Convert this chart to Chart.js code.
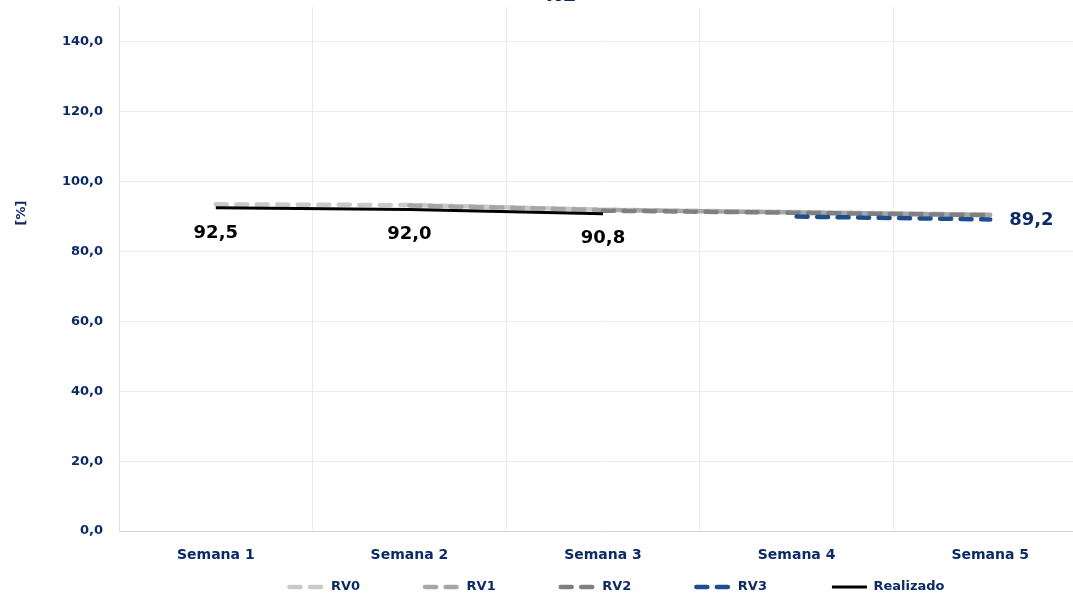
<!DOCTYPE html>
<html>
<head>
<meta charset="utf-8">
<script src="https://cdn.jsdelivr.net/npm/chart.js@4.4.1/dist/chart.umd.min.js"></script>
<style>
html,body{margin:0;padding:0;overflow:hidden;background:#fff;width:1073px;height:597px;}
#wrap{position:absolute;left:0;top:-17px;width:1087px;height:614px;}
canvas{display:block;}
</style>
</head>
<body>
<div id="wrap"><canvas id="c" width="1087" height="614"></canvas></div>
<script>
// ---- data ----
const categories = ['Semana 1', 'Semana 2', 'Semana 3', 'Semana 4', 'Semana 5'];
const seriesNames = ['RV0', 'RV1', 'RV2', 'RV3', 'Realizado'];
const rv0 = [93.5, 93.3, 92.0, 91.3, 90.6];
const rv1 = [null, 93.2, 91.9, 91.2, 90.5];
const rv2 = [null, null, 91.7, 91.1, 90.4];
const rv3 = [null, null, null, 90.0, 89.2];
const realizado = [92.5, 92.0, 90.8, null, null];
const yTickValues = [0, 20, 40, 60, 80, 100, 120, 140];
const chartTitle = 'NE';
const yAxisTitle = '[%]';

// ---- styles ----
const NAVY = '#0b2a66';
const FONT = "'DejaVu Sans', sans-serif";
Chart.defaults.font.family = FONT;
const fmt = v => v.toFixed(1).replace('.', ',');

const dashed = (color, ord) => ({
  borderColor: color, backgroundColor: color, borderWidth: 4.5,
  borderDash: [11, 9.5], borderCapStyle: 'round', pointRadius: 0,
  tension: 0, fill: false, order: ord
});

const legendPlace = {
  id: 'legendPlace',
  afterLayout(chart) {
    const lg = chart.legend;
    if (!lg) return;
    const pad = lg.options.labels.padding;
    const fs = 13;
    const ca = chart.chartArea;
    const centerY = ca.bottom + 56;
    lg.top = centerY - fs / 2 - pad;
    lg.bottom = chart.height;
    lg.height = lg.bottom - lg.top;
    const shift = (ca.left + ca.right) / 2 + 14 - (lg.left + lg.right) / 2;
    lg.left += shift;
    lg.right += shift;
  }
};

const valueLabels = {
  id: 'valueLabels',
  afterDatasetsDraw(chart) {
    const ctx = chart.ctx;
    ctx.save();
    ctx.font = "bold 18px " + FONT;
    ctx.textBaseline = 'middle';
    const mR = chart.getDatasetMeta(4);
    ctx.fillStyle = '#000000';
    ctx.textAlign = 'center';
    realizado.forEach((v, i) => {
      if (v == null) return;
      const p = mR.data[i];
      ctx.fillText(fmt(v), p.x, p.y + 25);
    });
    const m3 = chart.getDatasetMeta(3);
    const last = rv3.length - 1;
    const p = m3.data[last];
    ctx.fillStyle = NAVY;
    ctx.textAlign = 'left';
    ctx.fillText(fmt(rv3[last]), p.x + 19, p.y + 1);
    ctx.restore();
  }
};

const yTitlePlugin = {
  id: 'yTitlePlugin',
  afterDraw(chart) {
    const {ctx, chartArea} = chart;
    ctx.save();
    ctx.translate(chartArea.left - 97, chartArea.top + (chartArea.bottom - chartArea.top) * 0.393);
    ctx.rotate(-Math.PI / 2);
    ctx.font = "bold 13px " + FONT;
    ctx.fillStyle = NAVY;
    ctx.textAlign = 'center';
    ctx.textBaseline = 'middle';
    ctx.fillText(yAxisTitle, 0, 0);
    ctx.restore();
  }
};

new Chart(document.getElementById('c').getContext('2d'), {
  type: 'line',
  data: {
    labels: categories,
    datasets: [
      Object.assign({label: seriesNames[0], data: rv0}, dashed('#c9c9c9', 5)),
      Object.assign({label: seriesNames[1], data: rv1}, dashed('#a6a6a6', 4)),
      Object.assign({label: seriesNames[2], data: rv2}, dashed('#808080', 3)),
      Object.assign({label: seriesNames[3], data: rv3}, dashed('#1f4e8c', 2)),
      {label: seriesNames[4], data: realizado, borderColor: '#000000', backgroundColor: '#000000',
       borderWidth: 3, pointRadius: 0, tension: 0, fill: false, order: 1}
    ]
  },
  options: {
    responsive: false,
    animation: false,
    layout: {padding: {left: 35, right: 0, top: 0, bottom: 0}},
    plugins: {
      title: {display: true, text: chartTitle, color: NAVY, font: {size: 20, weight: 'bold'},
              padding: {top: 0.5, bottom: -0.5}},
      legend: {
        position: 'bottom',
        maxHeight: 33,
        labels: {
          usePointStyle: true, pointStyle: 'line', pointStyleWidth: 35,
          padding: 65, color: NAVY, font: {size: 13, weight: 'bold'},
          sort: (a, b) => a.datasetIndex - b.datasetIndex,
          generateLabels: chart => {
            const items = Chart.defaults.plugins.legend.labels.generateLabels(chart);
            items.forEach(it => {
              const ds = chart.data.datasets[it.datasetIndex];
              it.lineWidth = ds.borderWidth;
              it.lineDash = ds.borderDash || [];
              it.lineCap = ds.borderCapStyle || 'butt';
              it.strokeStyle = ds.borderColor;
            });
            return items;
          }
        }
      },
      tooltip: {enabled: false}
    },
    scales: {
      x: {
        offset: true,
        grid: {color: '#ebebeb', drawTicks: false, offset: true},
        border: {color: '#d4d4d4'},
        ticks: {color: NAVY, font: {size: 14, weight: 'bold'}, padding: 16, maxRotation: 0},
        afterFit: s => { s.height = 33; }
      },
      y: {
        min: 0, max: 150,
        grid: {color: '#ebebeb', drawTicks: false},
        border: {color: '#e0e0e0'},
        ticks: {stepSize: 20, color: NAVY, font: {size: 13, weight: 'bold'}, padding: 16,
                callback: v => fmt(v)},
        afterBuildTicks: s => { s.ticks = s.ticks.filter(t => yTickValues.includes(t.value)); },
        afterFit: s => { s.width = 84; }
      }
    }
  },
  plugins: [legendPlace, valueLabels, yTitlePlugin]
});
</script>
</body>
</html>
